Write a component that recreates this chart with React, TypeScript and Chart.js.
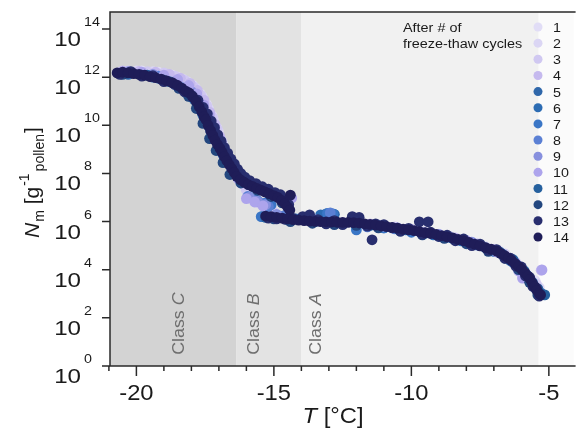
import React, { useEffect, useRef } from "react";
import { Chart, registerables } from "chart.js";

Chart.register(...registerables);

// ---------- data (T in °C, N_m in per gram pollen) ----------
const seriesNames = ["1", "2", "3", "4", "5", "6", "7", "8", "9", "10", "11", "12", "13", "14"];
const seriesColors = [
  "#e1ddf6", "#dbd6f4", "#d0c8f1", "#c5b9ee", "#2f67aa", "#2c6cb3", "#3a76c6",
  "#5b80d4", "#8790de", "#ada4ec", "#25609e", "#23477f", "#282e6e", "#1f1d58",
];

const s1 = [[-20.4,1.7e12],[-19.8,1.8e12],[-19.2,1.6e12],[-18.7,1.2e12],[-18.3,8.0e11],[-17.95,4.5e11],[-17.68,2.0e11],[-17.45,7.5e10],[-17.25,2.5e10],[-17.08,8.0e9],[-16.92,2.5e9],[-16.76,8.0e8],[-16.58,2.6e8],[-16.38,9.0e7],[-16.1,3.0e7],[-15.7,8.0e6],[-15.2,3.5e6],[-14.4,1.4e6],[-12.8,1.1e6],[-11.2,7.5e5],[-9.6,4.0e5],[-8.0,1.7e5],[-6.8,6.0e4],[-6.0,1.3e4],[-5.5,3.5e3]];
const s2 = [[-20.6,1.6e12],[-20.0,1.8e12],[-19.4,1.7e12],[-18.9,1.35e12],[-18.5,1.0e12],[-18.15,6.5e11],[-17.85,3.5e11],[-17.6,1.5e11],[-17.38,5.0e10],[-17.2,1.7e10],[-17.02,5.5e9],[-16.86,1.8e9],[-16.7,5.5e8],[-16.52,1.8e8],[-16.3,6.5e7],[-15.9,1.6e7],[-15.4,5.0e6],[-14.8,1.7e6],[-13.5,1.2e6],[-11.8,8.5e5],[-10.2,5.0e5],[-8.6,2.4e5],[-7.3,9.0e4],[-6.4,3.0e4],[-5.8,6.5e3],[-5.35,1.8e3]];
const s3 = [[-20.3,1.8e12],[-19.6,1.7e12],[-19.0,1.5e12],[-18.6,1.1e12],[-18.25,7.5e11],[-17.92,4.0e11],[-17.66,1.8e11],[-17.44,6.5e10],[-17.24,2.2e10],[-17.06,7.0e9],[-16.9,2.2e9],[-16.74,7.0e8],[-16.56,2.2e8],[-16.35,8.0e7],[-16.0,2.0e7],[-15.55,6.0e6],[-15.0,2.5e6],[-14.1,1.3e6],[-12.2,1.0e6],[-10.6,6.0e5],[-9.0,3.0e5],[-7.6,1.2e5],[-6.6,4.5e4],[-5.9,9.0e3],[-5.45,2.5e3]];
const s4 = [[-20.5,1.8e12],[-19.9,1.75e12],[-19.3,1.6e12],[-18.8,1.3e12],[-18.4,9.0e11],[-18.05,5.5e11],[-17.78,2.8e11],[-17.54,1.1e11],[-17.33,3.5e10],[-17.14,1.1e10],[-16.97,3.5e9],[-16.8,1.1e9],[-16.62,3.5e8],[-16.45,1.2e8],[-16.2,4.0e7],[-15.8,1.0e7],[-15.3,4.0e6],[-14.6,1.5e6],[-13.0,1.1e6],[-11.5,8.0e5],[-10.0,4.8e5],[-8.4,2.1e5],[-7.0,7.0e4],[-6.2,2.0e4],[-5.7,4.0e3],[-5.28,9.5e3]];
const s5 = [[-20.3,1.3e12],[-19.2,9.0e11],[-18.4,3.8e11],[-17.9,1.2e11],[-17.55,2.2e10],[-17.25,4.5e9],[-17.05,1.8e9],[-16.8,4.5e8],[-16.5,1.4e8],[-16.1,4.5e7],[-15.5,2.5e7],[-15.4,1.6e6],[-14.6,1.5e6],[-13.1,2.1e6],[-12.8,2.0e6],[-12.0,6.8e5],[-11.0,5.5e5],[-10.0,4.0e5],[-9.0,2.6e5],[-8.0,1.4e5],[-7.0,6.0e4],[-6.4,2.4e4],[-5.95,9.0e3],[-5.6,2.6e3],[-5.3,1.1e3]];
const s6 = [[-20.6,1.4e12],[-19.4,1.0e12],[-18.6,5.0e11],[-18.0,1.5e11],[-17.6,3.0e10],[-17.3,6.0e9],[-17.0,1.4e9],[-16.7,3.5e8],[-16.4,1.0e8],[-15.9,3.4e7],[-15.3,1.8e7],[-15.1,1.45e6],[-14.2,1.3e6],[-13.3,1.9e6],[-12.0,6.5e5],[-11.2,6.8e5],[-10.2,4.5e5],[-9.2,2.8e5],[-8.2,1.6e5],[-7.3,8.0e4],[-6.7,4.5e4],[-6.2,1.7e4],[-5.8,6.0e3],[-5.5,1.9e3]];
const s7 = [[-20.4,1.5e12],[-19.0,8.5e11],[-18.2,2.8e11],[-17.7,6.5e10],[-17.35,9.0e9],[-17.1,2.2e9],[-16.85,6.0e8],[-16.55,1.8e8],[-16.2,6.0e7],[-15.9,1.0e7],[-15.6,7.5e6],[-15.3,6.0e6],[-15.1,5.0e6],[-15.46,1.6e6],[-14.8,1.7e6],[-13.05,2.2e6],[-12.85,2.1e6],[-12.0,4.5e5],[-11.0,5.5e5],[-10.0,3.6e5],[-9.0,2.5e5],[-8.0,1.3e5],[-7.0,5.8e4],[-6.3,2.0e4],[-5.8,5.5e3],[-5.45,1.5e3]];
const s8 = [[-20.2,1.6e12],[-19.2,1.1e12],[-18.3,3.6e11],[-17.75,9.0e10],[-17.4,1.6e10],[-17.15,3.5e9],[-16.9,9.0e8],[-16.6,2.5e8],[-16.3,8.0e7],[-15.95,1.1e7],[-15.7,8.0e6],[-15.4,5.5e6],[-15.2,4.2e6],[-14.6,1.8e6],[-12.95,2.3e6],[-11.6,6.0e5],[-10.6,5.0e5],[-9.6,3.4e5],[-8.6,2.2e5],[-7.6,1.05e5],[-6.8,5.0e4],[-6.15,1.5e4],[-5.75,4.5e3],[-5.4,1.3e3]];
const s9 = [[-20.3,1.7e12],[-19.4,1.3e12],[-18.6,6.5e11],[-18.0,2.5e11],[-17.6,6.0e10],[-17.3,1.4e10],[-17.05,3.5e9],[-16.8,9.0e8],[-16.5,2.2e8],[-16.2,6.0e7],[-15.9,1.0e7],[-15.6,7.0e6],[-15.3,5.0e6],[-14.9,2.0e6],[-13.5,1.2e6],[-12.0,1.0e6],[-10.5,5.5e5],[-9.0,2.9e5],[-7.8,1.4e5],[-6.9,6.5e4],[-6.3,2.5e4],[-5.95,7.0e3],[-5.55,2.0e3]];
const s10 = [[-20.5,1.7e12],[-19.8,1.6e12],[-19.0,1.2e12],[-18.5,8.0e11],[-18.1,4.5e11],[-17.8,2.0e11],[-17.55,7.0e10],[-17.35,2.5e10],[-17.15,8.0e9],[-16.95,2.5e9],[-16.75,7.0e8],[-16.55,2.0e8],[-16.3,6.0e7],[-16.0,9.0e6],[-15.7,6.5e6],[-15.4,4.5e6],[-14.35,9.5e6],[-14.0,1.3e6],[-12.5,9.0e5],[-11.0,6.5e5],[-9.5,3.5e5],[-8.0,1.6e5],[-6.9,5.5e4],[-6.1,9.0e3],[-5.96,4.5e3],[-5.25,9.8e3]];
const s11 = [[-20.4,1.4e12],[-19.6,1.2e12],[-18.8,6.5e11],[-18.2,2.3e11],[-17.8,8.0e10],[-17.5,1.6e10],[-17.25,4.0e9],[-17.0,1.3e9],[-16.75,3.5e8],[-16.5,1.2e8],[-16.2,5.0e7],[-15.7,2.6e7],[-15.2,1.5e7],[-15.3,1.5e6],[-14.5,1.2e6],[-13.5,1.0e6],[-12.5,8.5e5],[-11.5,7.0e5],[-10.5,5.0e5],[-9.5,3.3e5],[-8.5,2.0e5],[-7.5,1.0e5],[-6.8,5.5e4],[-6.3,2.6e4],[-5.9,9.0e3],[-5.6,3.0e3],[-5.4,1.6e3],[-5.15,9.0e2]];
const s12 = [[-20.5,1.3e12],[-19.8,1.2e12],[-19.0,7.5e11],[-18.45,3.4e11],[-18.1,1.6e11],[-17.82,5.0e10],[-17.58,1.2e10],[-17.34,2.8e9],[-17.1,9.0e8],[-16.85,2.8e8],[-16.6,9.0e7],[-16.2,4.0e7],[-15.6,2.0e7],[-15.1,1.1e7],[-14.7,6.0e6],[-15.0,1.3e6],[-14.4,1.0e6],[-13.6,8.5e5],[-12.8,7.5e5],[-12.0,7.0e5],[-11.2,5.5e5],[-10.4,4.0e5],[-9.6,2.8e5],[-8.8,2.0e5],[-8.0,1.2e5],[-7.2,5.8e4],[-6.6,3.0e4],[-6.1,1.0e4],[-5.7,3.0e3],[-5.4,9.0e2]];
const s13 = [[-20.6,1.3e12],[-20.2,1.7e12],[-19.8,1.1e12],[-19.4,1.15e12],[-19.0,6.5e11],[-18.6,5.0e11],[-18.25,2.5e11],[-17.98,1.7e11],[-17.76,1.1e11],[-17.57,5.5e10],[-17.42,3.0e10],[-17.28,1.5e10],[-17.16,8.0e9],[-17.04,4.0e9],[-16.92,2.2e9],[-16.8,1.2e9],[-16.68,7.0e8],[-16.56,4.0e8],[-16.44,2.5e8],[-16.32,1.5e8],[-16.2,1.0e8],[-16.06,7.0e7],[-15.88,5.0e7],[-15.65,3.8e7],[-15.42,2.8e7],[-15.2,2.2e7],[-14.96,1.6e7],[-14.76,1.3e7],[-14.58,8.0e6],[-14.46,5.0e6],[-15.2,1.4e6],[-14.9,1.3e6],[-14.6,1.25e6],[-14.3,1.35e6],[-13.95,1.6e6],[-13.7,1.9e6],[-13.4,1.2e6],[-13.1,8.0e5],[-12.8,1.1e6],[-12.5,7.5e5],[-12.15,1.6e6],[-11.9,1.5e6],[-11.6,6.5e5],[-11.43,1.75e5],[-11.3,8.0e5],[-11.0,7.5e5],[-10.7,5.5e5],[-10.4,4.0e5],[-10.1,5.2e5],[-9.71,9.8e5],[-9.39,9.8e5],[-9.6,3.0e5],[-9.3,3.6e5],[-9.0,2.4e5],[-8.7,2.7e5],[-8.4,1.6e5],[-8.1,1.9e5],[-7.8,1.0e5],[-7.5,1.15e5],[-7.2,6.5e4],[-6.9,6.8e4],[-6.6,3.0e4],[-6.4,3.0e4],[-6.2,1.4e4],[-6.0,1.3e4],[-5.85,5.5e3],[-5.7,4.8e3],[-5.58,2.0e3],[-5.45,1.7e3],[-5.35,8.0e2]];
const s14 = [[-20.7,1.5e12],[-20.5,1.6e12],[-20.3,1.5e12],[-20.1,1.4e12],[-19.9,1.3e12],[-19.7,1.2e12],[-19.5,1.05e12],[-19.3,9.5e11],[-19.1,8.3e11],[-18.9,7.0e11],[-18.7,5.9e11],[-18.5,4.5e11],[-18.35,3.5e11],[-18.2,2.6e11],[-18.08,2.2e11],[-17.95,1.5e11],[-17.83,1.0e11],[-17.72,6.0e10],[-17.62,3.6e10],[-17.54,2.3e10],[-17.47,1.7e10],[-17.39,1.0e10],[-17.3,6.0e9],[-17.22,3.8e9],[-17.14,2.4e9],[-17.05,1.6e9],[-16.96,1.1e9],[-16.88,7.5e8],[-16.8,5.0e8],[-16.71,3.4e8],[-16.62,2.3e8],[-16.53,1.6e8],[-16.44,1.1e8],[-16.35,7.6e7],[-16.22,5.5e7],[-16.08,4.3e7],[-15.93,3.4e7],[-15.78,2.9e7],[-15.62,2.4e7],[-15.47,2.0e7],[-15.32,1.7e7],[-15.17,1.45e7],[-15.0,1.2e7],[-14.85,1.0e7],[-14.72,7.5e6],[-14.6,5.5e6],[-14.5,4.0e6],[-14.42,3.0e6],[-14.4,1.25e7],[-15.3,1.7e6],[-15.1,1.6e6],[-14.9,1.5e6],[-14.7,1.4e6],[-14.5,1.3e6],[-14.3,1.2e6],[-14.1,1.15e6],[-13.9,1.1e6],[-13.7,1.05e6],[-13.5,1.02e6],[-13.3,1.0e6],[-13.1,9.8e5],[-12.9,9.6e5],[-12.7,9.4e5],[-12.5,9.3e5],[-12.3,9.2e5],[-12.1,9.0e5],[-11.9,8.7e5],[-11.7,8.1e5],[-11.5,7.6e5],[-11.3,7.1e5],[-11.1,6.6e5],[-10.9,6.2e5],[-10.7,5.8e5],[-10.5,5.3e5],[-10.3,4.8e5],[-10.1,4.5e5],[-9.9,4.2e5],[-9.7,3.8e5],[-9.5,3.5e5],[-9.3,3.2e5],[-9.1,2.9e5],[-8.9,2.6e5],[-8.7,2.3e5],[-8.5,2.1e5],[-8.3,1.8e5],[-8.1,1.6e5],[-7.9,1.35e5],[-7.7,1.15e5],[-7.5,9.8e4],[-7.3,8.3e4],[-7.1,7.1e4],[-6.9,5.9e4],[-6.75,4.8e4],[-6.6,3.8e4],[-6.47,3.0e4],[-6.35,2.4e4],[-6.22,1.8e4],[-6.1,1.35e4],[-5.98,1.0e4],[-5.87,7.4e3],[-5.77,5.5e3],[-5.68,4.0e3],[-5.6,2.8e3],[-5.52,2.0e3],[-5.44,1.4e3],[-5.36,1.05e3],[-5.3,9.0e2]];

const allSeries = [s1, s2, s3, s4, s5, s6, s7, s8, s9, s10, s11, s12, s13, s14];

// axes
const xMin = -20.96;
const xMax = -4.1;
const yMin = 1;
const yMax = 5.1e14;
const xMajorTicks = [-20, -15, -10, -5];
const xMinorTicks = [-21, -19, -18, -17, -16, -14, -13, -12, -11, -9, -8, -7, -6];
const yTickExponents = [0, 2, 4, 6, 8, 10, 12, 14];

// shaded classes
const classNames = ["C", "B", "A"];
const classStart = [-20.96, -16.36, -14.0];
const classEnd = [-16.36, -14.0, -5.38];
const classFill = ["#d3d3d3", "#e3e3e3", "#f1f1f1"];
const classLabelT = [-18.26, -15.53, -13.27];
const classLabelN = 2.9;

const FONT = '"Liberation Sans", Arial, Helvetica, sans-serif';

function txt(ctx: CanvasRenderingContext2D, s: string, x: number, y: number, size: number,
  o: { italic?: boolean; align?: CanvasTextAlign; sx?: number; color?: string } = {}) {
  const sx = o.sx ?? 1;
  ctx.save();
  ctx.font = `${o.italic ? "italic " : ""}${size}px ${FONT}`;
  ctx.fillStyle = o.color ?? "#1a1a1a";
  ctx.textBaseline = "alphabetic";
  ctx.textAlign = o.align ?? "left";
  ctx.translate(x, y);
  ctx.scale(sx, 1);
  ctx.fillText(s, 0, 0);
  const w = ctx.measureText(s).width * sx;
  ctx.restore();
  return w;
}

const backgroundPlugin = {
  id: "classBackground",
  beforeDatasetsDraw(chart: any) {
    const ctx: CanvasRenderingContext2D = chart.ctx;
    const { top, bottom, left, right } = chart.chartArea;
    const xs = chart.scales.x;
    const ys = chart.scales.y;
    ctx.save();
    ctx.fillStyle = "#fbfbfb";
    ctx.fillRect(left, top, right - left, bottom - top);
    for (let i = 0; i < classNames.length; i++) {
      const a = xs.getPixelForValue(classStart[i]);
      const b = xs.getPixelForValue(classEnd[i]);
      ctx.fillStyle = classFill[i];
      ctx.fillRect(a, top, b - a, bottom - top);
    }
    for (let i = 0; i < classNames.length; i++) {
      const bx = xs.getPixelForValue(classLabelT[i]);
      const by = ys.getPixelForValue(classLabelN);
      ctx.save();
      ctx.translate(bx, by);
      ctx.rotate(-Math.PI / 2);
      const w = txt(ctx, "Class ", 0, 0, 17, { color: "#6e6e6e", sx: 1.05 });
      txt(ctx, classNames[i], w, 0, 17, { color: "#6e6e6e", italic: true, sx: 1.05 });
      ctx.restore();
    }
    ctx.restore();
  },
};

const axesPlugin = {
  id: "customAxes",
  afterDraw(chart: any) {
    const ctx: CanvasRenderingContext2D = chart.ctx;
    const { top, bottom, left, right } = chart.chartArea;
    const xs = chart.scales.x;
    const ys = chart.scales.y;
    ctx.save();
    ctx.strokeStyle = "#2a2a2a";
    ctx.lineWidth = 1.5;
    ctx.beginPath();
    ctx.moveTo(right + 2, top);
    ctx.lineTo(left, top);
    ctx.lineTo(left, bottom);
    ctx.lineTo(right + 2, bottom);
    ctx.stroke();

    ctx.beginPath();
    for (const t of xMajorTicks) {
      const px = xs.getPixelForValue(t);
      ctx.moveTo(px, bottom);
      ctx.lineTo(px, bottom + 10);
    }
    for (const t of xMinorTicks) {
      const px = xs.getPixelForValue(t);
      if (px < left - 2) continue;
      ctx.moveTo(px, bottom);
      ctx.lineTo(px, bottom + 5);
    }
    for (const e of yTickExponents) {
      const py = ys.getPixelForValue(Math.pow(10, e));
      ctx.moveTo(left, py);
      ctx.lineTo(left - 8, py);
    }
    ctx.stroke();

    for (const t of xMajorTicks) {
      const px = xs.getPixelForValue(t);
      txt(ctx, String(t), px, bottom + 34, 22, { align: "center", sx: 1.08 });
    }
    for (const e of yTickExponents) {
      const py = ys.getPixelForValue(Math.pow(10, e));
      txt(ctx, "10", left - 29, py + 17, 21, { align: "right", sx: 1.15 });
      txt(ctx, String(e), left - 26, py - 3, 13, { sx: 1.1 });
    }

    // x title: T [°C]
    ctx.save();
    ctx.font = `22px ${FONT}`;
    const w2 = ctx.measureText(" [°C]").width * 1.08;
    ctx.font = `italic 22px ${FONT}`;
    const w1 = ctx.measureText("T").width * 1.08;
    ctx.restore();
    const cx = (xs.getPixelForValue(-13.0) + xs.getPixelForValue(-12.7)) / 2;
    const sx0 = cx - (w1 + w2) / 2;
    txt(ctx, "T", sx0, 423, 22, { italic: true, sx: 1.08 });
    txt(ctx, " [°C]", sx0 + w1, 423, 22, { sx: 1.08 });

    // y title: N_m [g^-1 _pollen]
    ctx.save();
    ctx.translate(39, 238);
    ctx.rotate(-Math.PI / 2);
    let u = 0;
    u += txt(ctx, "N", u, 0, 21, { italic: true });
    u += 1;
    u += txt(ctx, "m", u, 5, 14);
    u += txt(ctx, " [g", u, 0, 21);
    const wSup = txt(ctx, "-1", u + 1, -10, 14);
    u += wSup + 3;
    u += txt(ctx, "pollen", u, 5, 14);
    u += 1;
    txt(ctx, "]", u, 0, 21);
    ctx.restore();

    // legend
    txt(ctx, "After # of", 403, 32, 12, { sx: 1.2 });
    txt(ctx, "freeze-thaw cycles", 403, 48, 12, { sx: 1.2 });
    for (let i = 0; i < seriesNames.length; i++) {
      const y = 27 + i * 16.15;
      ctx.beginPath();
      ctx.fillStyle = seriesColors[i];
      ctx.arc(538, y, 4.5, 0, Math.PI * 2);
      ctx.fill();
      txt(ctx, seriesNames[i], 553, y + 5, 13, { sx: 1.1 });
    }
    ctx.restore();
  },
};

export default function App() {
  const ref = useRef<HTMLCanvasElement | null>(null);
  useEffect(() => {
    if (!ref.current) return;
    const datasets = allSeries.map((s, i) => ({
      label: seriesNames[i],
      data: s.map(([x, y]) => ({ x, y })),
      backgroundColor: seriesColors[i],
      borderColor: seriesColors[i],
      borderWidth: 0,
      pointRadius: 5.4,
      pointHoverRadius: 5.4,
      order: allSeries.length - 1 - i,
    }));
    const chart = new Chart(ref.current, {
      type: "scatter",
      data: { datasets },
      options: {
        animation: false,
        responsive: false,
        devicePixelRatio: 1,
        layout: { padding: { left: 110, top: 12, right: 0, bottom: 66 } },
        plugins: { legend: { display: false }, tooltip: { enabled: false } },
        events: [],
        scales: {
          x: { type: "linear", min: xMin, max: xMax, display: false },
          y: { type: "logarithmic", min: yMin, max: yMax, display: false },
        },
      },
      plugins: [backgroundPlugin, axesPlugin],
    } as any);
    return () => chart.destroy();
  }, []);
  return (
    <div style={{ position: "fixed", left: 0, top: 0, width: 579, height: 432, background: "#ffffff" }}>
      <canvas ref={ref} width={579} height={432} style={{ display: "block" }} />
    </div>
  );
}
